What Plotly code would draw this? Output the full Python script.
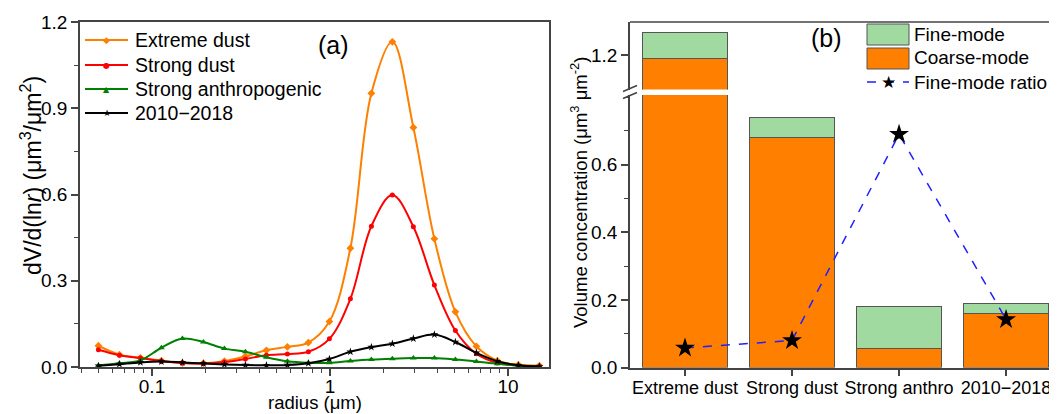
import plotly.graph_objects as go

# ---------------- data ----------------
radius = [0.05, 0.065604, 0.086077, 0.112939, 0.148184, 0.194429, 0.255105,
          0.334716, 0.439173, 0.576227, 0.756052, 0.991996, 1.301571, 1.707757,
          2.240702, 2.939966, 3.857452, 5.06126, 6.640745, 8.713145, 11.432287, 15.0]
extreme_dust = [0.074, 0.043, 0.032, 0.022, 0.014, 0.013, 0.020, 0.037, 0.058, 0.070, 0.085,
                0.158, 0.413, 0.952, 1.131, 0.833, 0.446, 0.192, 0.072, 0.022, 0.008, 0.005]
strong_dust = [0.060, 0.041, 0.031, 0.021, 0.014, 0.012, 0.017, 0.028, 0.041, 0.045, 0.053,
               0.098, 0.237, 0.490, 0.598, 0.488, 0.285, 0.127, 0.046, 0.014, 0.005, 0.003]
strong_anthro = [0.005, 0.013, 0.023, 0.067, 0.099, 0.087, 0.064, 0.053, 0.034, 0.020, 0.015,
                 0.015, 0.021, 0.026, 0.029, 0.031, 0.031, 0.026, 0.019, 0.011, 0.005, 0.002]
period_2010_2018 = [0.004, 0.010, 0.016, 0.019, 0.016, 0.012, 0.009, 0.007, 0.006, 0.007, 0.013,
                    0.028, 0.053, 0.069, 0.081, 0.099, 0.113, 0.087, 0.049, 0.020, 0.006, 0.002]
series_names = ["Extreme dust", "Strong dust", "Strong anthropogenic", "2010\u22122018"]

x_ticks = [0.1, 1, 10]
x_ticklabels = ["0.1", "1", "10"]
x_minor = [0.04, 0.05, 0.06, 0.07, 0.08, 0.09, 0.2, 0.3, 0.4, 0.5, 0.6, 0.7, 0.8, 0.9,
           2, 3, 4, 5, 6, 7, 8, 9]

categories = ["Extreme dust", "Strong dust", "Strong anthro", "2010\u22122018"]
coarse_mode = [1.190, 0.679, 0.055, 0.161]
fine_mode = [0.076, 0.059, 0.124, 0.027]
fine_ratio = [0.058, 0.080, 0.690, 0.142]

FONT = "Liberation Sans, Arial, sans-serif"
OFF = 8                      # default page margin of the html body
W, H = 1057 - OFF, 414 - OFF


def px(x):
    return (x - OFF) / W


def py(y):
    return 1 - (y - OFF) / H


fig = go.Figure()

# ---------------- panel (a) ----------------
styles = [("#FF8000", "diamond", 6, "\u25c6", 9),
          ("#FF0000", "circle", 5, "\u25cf", 8),
          ("#008000", "triangle-up", 6, "\u25b2", 8),
          ("#000000", "star", 6, "\u2605", 9)]
all_vals = [extreme_dust, strong_dust, strong_anthro, period_2010_2018]
for name, vals, (col, sym, ms, _, _) in zip(series_names, all_vals, styles):
    fig.add_trace(go.Scatter(
        x=radius, y=vals, name=name, mode="lines+markers",
        line=dict(color=col, width=2, shape="spline", smoothing=1.0),
        marker=dict(color=col, symbol=sym, size=ms),
        xaxis="x", yaxis="y", showlegend=False))

# ---------------- panel (b) ----------------
for yax in ("y2", "y3"):
    fig.add_trace(go.Bar(
        x=categories, y=coarse_mode, name="Coarse-mode",
        marker=dict(color="#FF8000", line=dict(color="#555555", width=1)),
        width=0.8, xaxis="x2", yaxis=yax, showlegend=False))
    fig.add_trace(go.Bar(
        x=categories, y=fine_mode, name="Fine-mode",
        marker=dict(color="#A0DAA0", line=dict(color="#555555", width=1)),
        width=0.8, xaxis="x2", yaxis=yax, showlegend=False))

fig.add_trace(go.Scatter(
    x=categories, y=fine_ratio, name="Fine-mode ratio", mode="lines+markers",
    line=dict(color="#2020FF", width=1.5, dash="dash"),
    marker=dict(color="black", symbol="star", size=15),
    xaxis="x2", yaxis="y2", showlegend=False, cliponaxis=False))

axis_common = dict(showline=True, linecolor="#444444", linewidth=1.5,
                   ticks="outside", tickcolor="#444444", ticklen=7, tickwidth=1.5,
                   showgrid=False, zeroline=False, automargin=False, tickangle=0)
tf19 = dict(family=FONT, size=19, color="black")
tf18 = dict(family=FONT, size=18, color="black")

fig.update_layout(
    width=W, height=H,
    margin=dict(l=0, r=0, t=0, b=0),
    paper_bgcolor="white", plot_bgcolor="white",
    barmode="stack", bargap=0.2,
    font=dict(family=FONT, color="black"),
    showlegend=False,
    xaxis=dict(type="log", domain=[px(80), px(549)], range=[-1.4045, 1.2303],
               tickvals=x_ticks, ticktext=x_ticklabels, mirror=True,
               ticklabelstandoff=-6, tickfont=tf19,
               minor=dict(ticks="outside", ticklen=4, tickvals=x_minor, tickcolor="#444444",
                          tickwidth=1, showgrid=False),
               anchor="y", **axis_common),
    yaxis=dict(domain=[py(367), py(22)], range=[0, 1.2],
               tickvals=[0, 0.3, 0.6, 0.9, 1.2], tickformat=".1f", mirror=True,
               tickfont=tf19,
               minor=dict(ticks="outside", ticklen=4, dtick=0.15, tickcolor="#444444",
                          tickwidth=1, showgrid=False),
               anchor="x", **axis_common),
    xaxis2=dict(type="category", domain=[px(630), 1.0], range=[-0.514, 3.476],
                ticklabelstandoff=-4, tickfont=tf18,
                anchor="y2", **axis_common),
    yaxis2=dict(domain=[py(367.5), py(95)], range=[0, 0.806],
                tickvals=[0, 0.2, 0.4, 0.6], tickformat=".1f", tickfont=tf19,
                minor=dict(ticks="outside", ticklen=4, dtick=0.1, tickcolor="#444444",
                           tickwidth=1, showgrid=False),
                anchor="x2", **axis_common),
    yaxis3=dict(domain=[py(89.5), py(22)], range=[1.098, 1.2976],
                tickvals=[1.2], tickformat=".1f", mirror=False, tickfont=tf19,
                anchor="x2", **axis_common),
)

shapes = []
annotations = []
# top border of panel (b)
shapes.append(dict(type="line", xref="paper", yref="paper",
                   x0=px(630), x1=1.0, y0=py(22), y1=py(22),
                   line=dict(color="#444444", width=1.5)))
# break marks on the left axis of panel (b)
for dy in (-3.5, 3.5):
    shapes.append(dict(type="line", xref="paper", yref="paper",
                       x0=px(623), y0=py(92 + dy + 3), x1=px(637), y1=py(92 + dy - 3),
                       line=dict(color="#444444", width=1.5)))

# manual legend for panel (a)
leg_y = [40, 65, 89, 113]
for name, (col, _, _, glyph, gsize), ly in zip(series_names, styles, leg_y):
    shapes.append(dict(type="line", xref="paper", yref="paper",
                       x0=px(85), x1=px(128), y0=py(ly), y1=py(ly),
                       line=dict(color=col, width=2)))
    annotations.append(dict(text=glyph, x=px(106.5), y=py(ly), xref="paper", yref="paper",
                            showarrow=False, xanchor="center", yanchor="middle",
                            font=dict(family="DejaVu Sans", size=gsize, color=col)))
    annotations.append(dict(text=name, x=px(133), y=py(ly), xref="paper", yref="paper",
                            showarrow=False, xanchor="left", yanchor="middle",
                            font=dict(size=19.5)))

# manual legend for panel (b)
shapes.append(dict(type="rect", xref="paper", yref="paper",
                   x0=px(867), x1=px(909), y0=py(45), y1=py(24),
                   fillcolor="#A0DAA0", line=dict(color="#555555", width=1)))
shapes.append(dict(type="rect", xref="paper", yref="paper",
                   x0=px(867), x1=px(909), y0=py(69), y1=py(48),
                   fillcolor="#FF8000", line=dict(color="#555555", width=1)))
shapes.append(dict(type="line", xref="paper", yref="paper",
                   x0=px(867), x1=px(909), y0=py(82), y1=py(82),
                   line=dict(color="#2020FF", width=1.5, dash="dash")))
annotations += [
    dict(text="\u2605", x=px(888), y=py(82), xref="paper", yref="paper",
         showarrow=False, font=dict(family="DejaVu Sans", size=17, color="black"),
         xanchor="center", yanchor="middle"),
    dict(text="Fine-mode", x=px(912), y=py(35), xref="paper", yref="paper",
         showarrow=False, xanchor="left", yanchor="middle", font=dict(size=19)),
    dict(text="Coarse-mode", x=px(912), y=py(58), xref="paper", yref="paper",
         showarrow=False, xanchor="left", yanchor="middle", font=dict(size=19)),
    dict(text="Fine-mode ratio", x=px(912), y=py(82), xref="paper", yref="paper",
         showarrow=False, xanchor="left", yanchor="middle", font=dict(size=19)),
    dict(text="(a)", x=px(333), y=py(45), xref="paper", yref="paper",
         showarrow=False, xanchor="center", yanchor="middle", font=dict(size=25)),
    dict(text="(b)", x=px(826), y=py(38), xref="paper", yref="paper",
         showarrow=False, xanchor="center", yanchor="middle", font=dict(size=25)),
    dict(text="radius (\u03bcm)", x=px(315), y=py(402.5), xref="paper", yref="paper",
         showarrow=False, xanchor="center", yanchor="middle", font=dict(size=18.5)),
    dict(text="dV/d(ln<i>r</i>) (\u03bcm<sup>3</sup>/\u03bcm<sup>2</sup>)",
         x=px(31), y=py(176), xref="paper", yref="paper", textangle=-90,
         showarrow=False, xanchor="center", yanchor="middle", font=dict(size=23)),
    dict(text="Volume concentration (\u03bcm<sup>3</sup> \u03bcm<sup>-2</sup>)",
         x=px(579), y=py(193), xref="paper", yref="paper", textangle=-90,
         showarrow=False, xanchor="center", yanchor="middle", font=dict(size=18.5)),
]
fig.update_layout(shapes=shapes, annotations=annotations)

fig.write_html("out.html")
